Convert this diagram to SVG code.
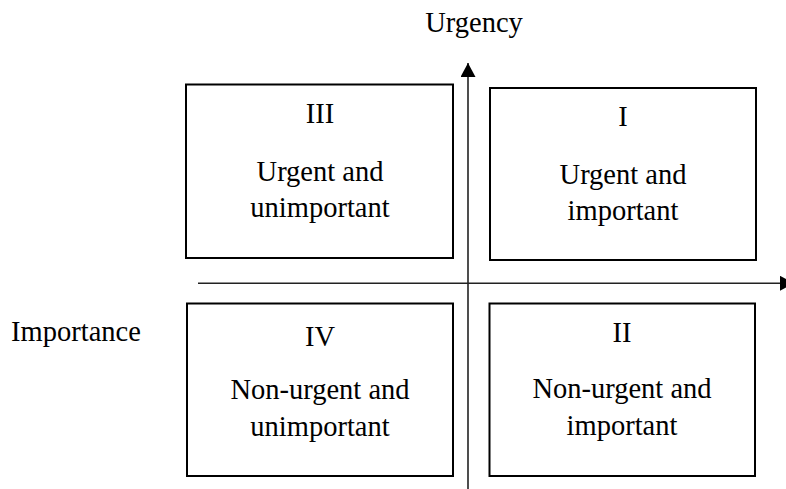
<svg xmlns="http://www.w3.org/2000/svg" width="786" height="489" viewBox="0 0 786 489">
<style>
.box{fill:none;stroke:#000;stroke-width:2}
.axis{stroke:#222;stroke-width:1.6;fill:none}
text{font-family:"Liberation Serif","Times New Roman",serif;font-size:28.5px;fill:#000;text-anchor:middle}
</style>
<defs>
<marker id="arr" markerWidth="15" markerHeight="15" viewBox="0 0 14 15" refX="14" refY="7.5" orient="auto" markerUnits="userSpaceOnUse">
<path d="M0,0 L14,7.5 L0,15 Z" fill="#000"/>
</marker>
</defs>
<rect width="786" height="489" fill="#fff"/>
<g id="connectors">
<line class="axis" x1="468" y1="489" x2="468" y2="63" marker-end="url(#arr)"/>
<line class="axis" x1="198" y1="283.3" x2="794" y2="283.3" marker-end="url(#arr)"/>
</g>
<g id="label-urgency"><text x="474" y="32">Urgency</text></g>
<g id="label-importance"><text x="76" y="341">Importance</text></g>
<g id="q3">
<rect class="box" x="186" y="84.5" width="267" height="173.5"/>
<text x="320" y="123">III</text>
<text x="320" y="180.5">Urgent and</text>
<text x="320" y="216.5">unimportant</text>
</g>
<g id="q1">
<rect class="box" x="490" y="88" width="266" height="172"/>
<text x="623" y="126">I</text>
<text x="623" y="184">Urgent and</text>
<text x="623" y="220">important</text>
</g>
<g id="q4">
<rect class="box" x="187" y="303.5" width="266" height="172.5"/>
<text x="320" y="346">IV</text>
<text x="320" y="399">Non-urgent and</text>
<text x="320" y="436">unimportant</text>
</g>
<g id="q2">
<rect class="box" x="489.5" y="303.5" width="265.5" height="172.5"/>
<text x="622" y="342">II</text>
<text x="622" y="398">Non-urgent and</text>
<text x="622" y="435">important</text>
</g>
</svg>
